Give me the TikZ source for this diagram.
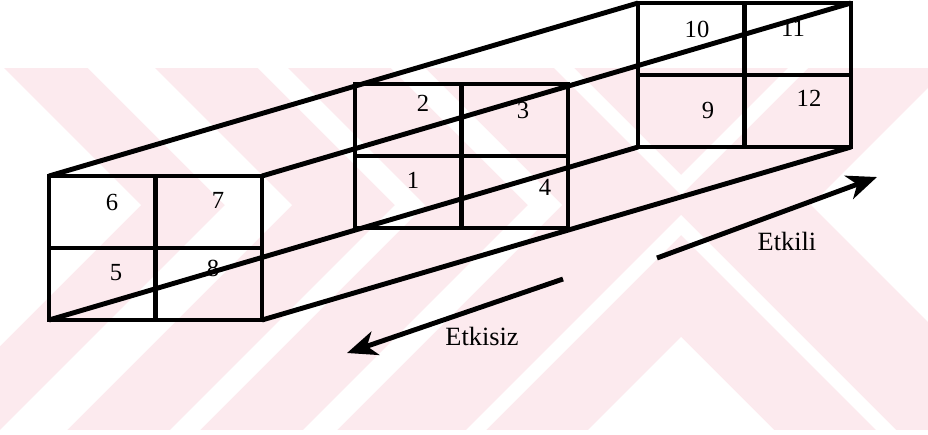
\documentclass[tikz,border=0pt]{standalone}
\usepackage{fontspec}
\setmainfont{Liberation Serif}
\usepackage{tikz}
\usetikzlibrary{arrows.meta}
\definecolor{wmpink}{RGB}{252,234,238}

\begin{document}
\begin{tikzpicture}[x=0.02cm,y=-0.02cm,
    edge/.style={line width=2.8pt},
    num/.style={font=\fontsize{14}{16}\selectfont},
    lbl/.style={font=\fontsize{15}{18}\selectfont}]
\useasboundingbox (0,0) rectangle (928,434);

% stamp in the background
\begin{scope}
  \clip (0,68) rectangle (928,430);
  \fill[wmpink] (0,68) rectangle (928,430);
  \foreach \a/\b in {119/153,256/286,389/456,540/900}
    \fill[white] (681-\b-137,68) -- (681-\b,205) -- (681-\b-225,430)
              -- (681-\a-225,430) -- (681-\a,205) -- (681-\a-137,68) -- cycle;
  \fill[white] (948,68) -- (811,205) -- (1036,430) -- (1100,430) -- (1100,68) -- cycle;
  \fill[white] (588,430) -- (681,337) -- (774,430) -- cycle;
  \fill[white] (466,430) -- (681,215) -- (896,430) -- (876,430) -- (681,235) -- (486,430) -- cycle;
  \fill[white] (554,68) -- (681,195) -- (808,68) -- (788,68) -- (681,175) -- (574,68) -- cycle;
\end{scope}

\begin{scope}[edge]
  % three sections, 2x2 cells each
  \foreach \n/\x/\y in {f/49/176, m/355/84, b/638/3}{
    \draw (\x,\y) rectangle +(213,144);
    \draw (\x+106.5,\y) -- +(0,144);
    \draw (\x,\y+72) -- +(213,0);
    \coordinate (\n-tl) at (\x,\y);
    \coordinate (\n-tr) at (\x+213,\y);
    \coordinate (\n-bl) at (\x,\y+144);
    \coordinate (\n-br) at (\x+213,\y+144);
  }
  \draw (f-tl) -- (b-tl);
  \draw (f-tr) -- (b-tr);
  \draw (f-bl) -- (b-bl);
  \draw (f-br) -- (b-br);
\end{scope}

\foreach \t/\x/\y in {6/112/202, 7/218/200, 5/116/273, 8/213/268,
                      2/423/103, 3/523/110, 1/413/180, 4/545/187,
                      10/697/29, 11/793/28, 9/708/110, 12/809/98}
  \node[num] (c\t) at (\x,\y) {\t};

\begin{scope}[>={Stealth[length=17pt,width=14pt,inset=5pt]}]
  \coordinate (kili-a) at (657,258);
  \coordinate (kili-b) at (877,177);
  \coordinate (kisiz-a) at (563,279);
  \coordinate (kisiz-b) at (347,353);
  \draw[edge,->] (kili-a) -- (kili-b);
  \draw[edge,->] (kisiz-a) -- (kisiz-b);
  \node[lbl] (etkili) at (787,241) {Etkili};
  \node[lbl] (etkisiz) at (482,336) {Etkisiz};
\end{scope}
\end{tikzpicture}
\end{document}
